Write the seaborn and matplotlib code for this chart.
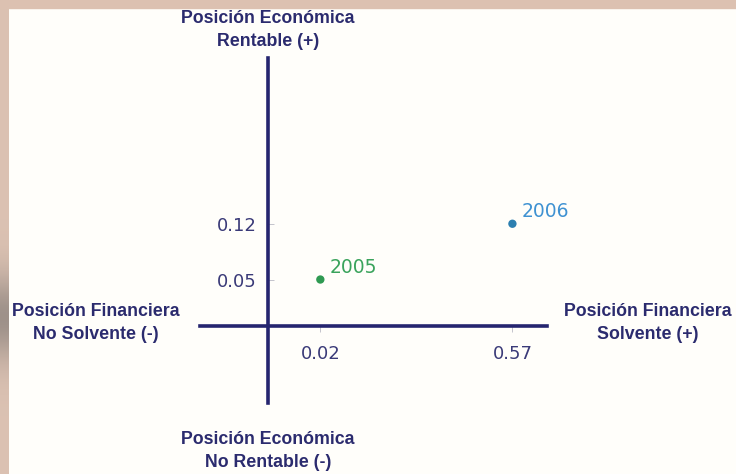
import numpy as np
import pandas as pd
import matplotlib
matplotlib.use("Agg")
import matplotlib.pyplot as plt
from matplotlib.patches import Rectangle
import seaborn as sns

# Datos: posición financiera (solvencia) y económica (rentabilidad) por año
years = ["2005", "2006"]
solvencia = [0.02, 0.57]
rentabilidad = [0.05, 0.12]
x_ticks = [0.02, 0.57]
y_ticks = [0.05, 0.12]
x_tick_labels = ["0.02", "0.57"]
y_tick_labels = ["0.05", "0.12"]
point_colors = ["#2f9a52", "#2c7fb0"]
label_colors = ["#3aa35c", "#3f92d2"]

df = pd.DataFrame({"year": years, "solvencia": solvencia, "rentabilidad": rentabilidad})

sns.set_theme(style="white")
plt.rcParams["font.family"] = ["DejaVu Sans"]

W, H, DPI = 736, 474, 100
fig = plt.figure(figsize=(W / DPI, H / DPI), dpi=DPI, facecolor="#fffefa")

# marco de color arena: franja superior lisa y franja izquierda sombreada
fig.patches.append(Rectangle((0, 1 - 8 / H), 1, 8 / H, transform=fig.transFigure,
                             color="#dcc1b1", zorder=0))
band = fig.add_axes([0, 0, 9 / W, 1])
band.set_axis_off()
rows = np.linspace(0, 1, H)
tan = np.array([0.86, 0.76, 0.70])
shade = np.array([0.62, 0.57, 0.54])
w = np.exp(-((rows - 0.33) / 0.09) ** 2)[:, None]   # sombra hacia la mitad inferior
grad = tan * (1 - w) + shade * w
band.imshow(grad[:, None, :], aspect="auto", extent=(0, 1, 0, 1), origin="lower")

# el área de ejes abarca los dos ejes cruzados
x0, x1, ytop, ybot = 200, 547, 58, 403
ax = fig.add_axes([x0 / W, 1 - ybot / H, (x1 - x0) / W, (ybot - ytop) / H])
ax.set_facecolor("none")

sns.scatterplot(data=df, x="solvencia", y="rentabilidad", hue="year",
                palette=point_colors, s=36, edgecolor="none", legend=False,
                ax=ax, zorder=5)


def power_scale(p):
    def fwd(v):
        v = np.asarray(v, dtype=float)
        return np.sign(v) * np.abs(v) ** p

    def inv(v):
        v = np.asarray(v, dtype=float)
        return np.sign(v) * np.abs(v) ** (1 / p)
    return fwd, inv


ax.set_xscale("function", functions=power_scale(0.46))
ax.set_yscale("function", functions=power_scale(0.9))
ax.set_xlim(-0.0353, 0.760)
ax.set_ylim(-0.0875, 0.350)

axis_color = "#25256f"
for side in ("top", "right"):
    ax.spines[side].set_visible(False)
ax.spines["left"].set_position(("data", 0))
ax.spines["bottom"].set_position(("data", 0))
for side in ("left", "bottom"):
    ax.spines[side].set_color(axis_color)
    ax.spines[side].set_linewidth(2.6)
    ax.spines[side].set_zorder(3)

ax.set_xticks(x_ticks)
ax.set_xticklabels(x_tick_labels)
ax.set_yticks(y_ticks)
ax.set_yticklabels(y_tick_labels)
ax.minorticks_off()
tick_text = "#3a3a78"
ax.tick_params(axis="x", direction="out", length=4, width=0.7, color="#c4c4cc",
               pad=10, labelsize=13, labelcolor=tick_text, bottom=True)
ax.tick_params(axis="y", direction="in", length=4, width=0.7, color="#c4c4cc",
               pad=8, labelsize=13, labelcolor=tick_text, left=True)
ax.set_xlabel("")
ax.set_ylabel("")

for yr, xs, ys, c in zip(years, solvencia, rentabilidad, label_colors):
    ax.annotate(yr, (xs, ys), xytext=(9, 12), textcoords="offset pixels",
                ha="left", va="center", fontsize=13.5, color=c)

# rótulos de los cuatro extremos de los ejes
lab = dict(family=["Liberation Sans", "DejaVu Sans"], fontweight="bold",
           fontsize=12.8, color="#2b2b6e", ha="center", va="center",
           multialignment="center", linespacing=1.4)


def px(x, y):
    return x / W, 1 - y / H


fig.text(*px(268, 30), "Posición Económica\nRentable (+)", **lab)
fig.text(*px(96, 323), "Posición Financiera\nNo Solvente (-)", **lab)
fig.text(*px(648, 323), "Posición Financiera\nSolvente (+)", **lab)
fig.text(*px(268, 451), "Posición Económica\nNo Rentable (-)", **lab)

fig.savefig("out.png", dpi=DPI, facecolor=fig.get_facecolor())
